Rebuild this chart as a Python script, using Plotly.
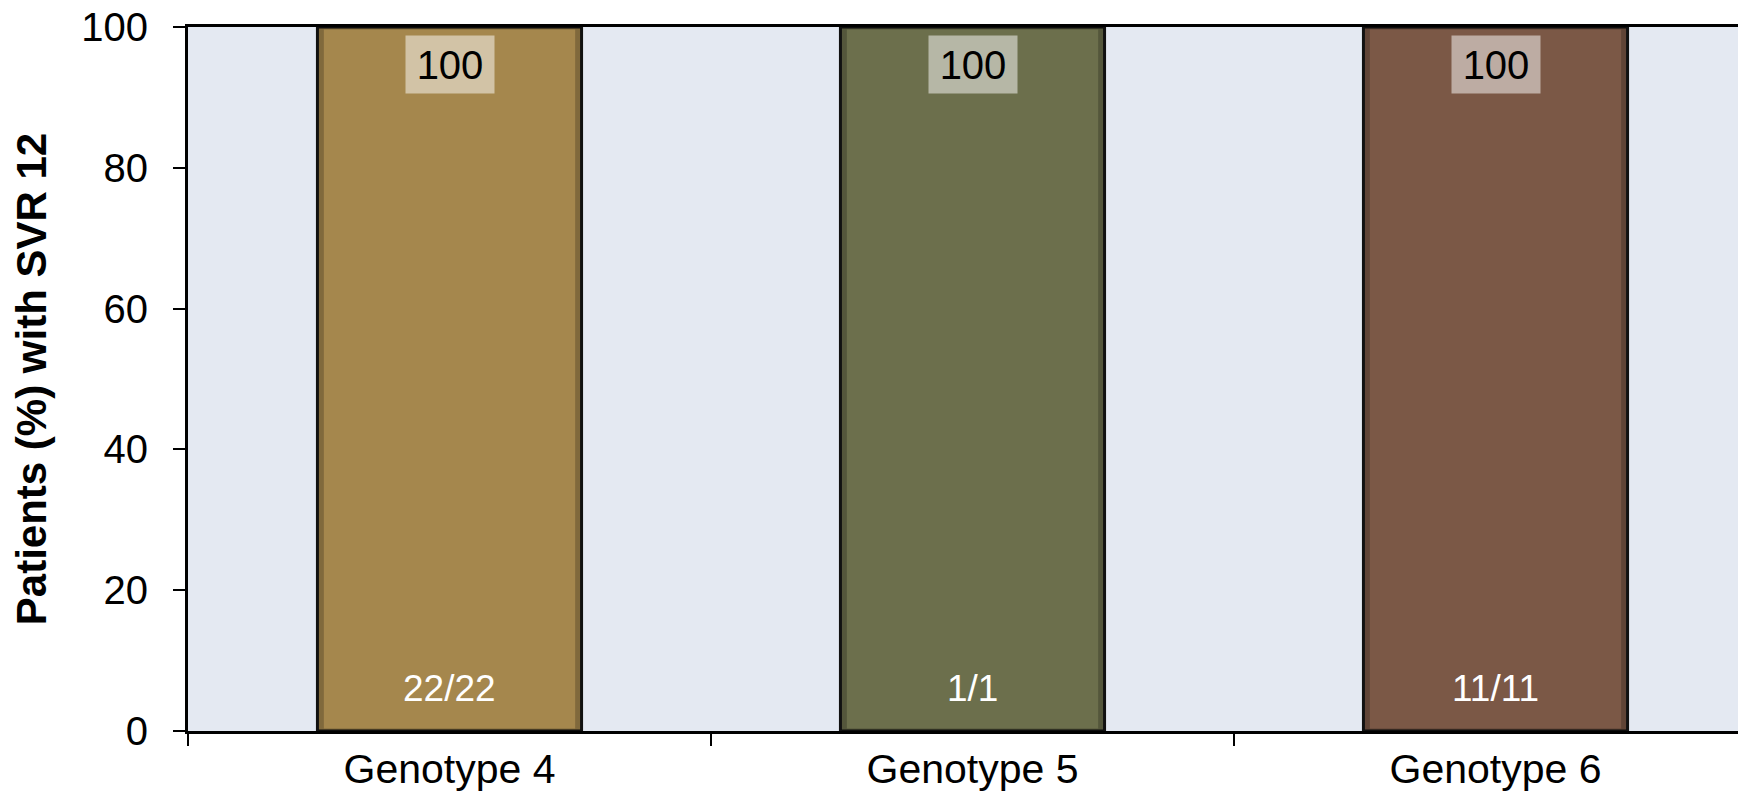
import plotly.graph_objects as go

categories = ["Genotype 4", "Genotype 5", "Genotype 6"]
svr_pct = [100, 100, 100]
n_labels = ["22/22", "1/1", "11/11"]
bar_colors = ["#A5874D", "#6C6F4C", "#7B5846"]
y_ticks = [0, 20, 40, 60, 80, 100]

FONT = "Liberation Sans, Arial, sans-serif"

# page body has an 8px default margin; figure sized to fit the window
FIG_W, FIG_H = 1738, 783
M_L, M_T, M_B = 180, 19, 60
CAT_PX = 523.0

fig = go.Figure()
fig.add_trace(go.Bar(
    x=categories, y=svr_pct, width=0.505,
    marker=dict(color=bar_colors, line=dict(color="#111111", width=3)),
    hoverinfo="skip",
))
# inner shading frame for bevel look
fig.add_trace(go.Bar(
    x=categories, y=svr_pct, width=0.49,
    marker=dict(color="rgba(0,0,0,0)", line=dict(color="rgba(0,0,0,0.22)", width=5)),
    hoverinfo="skip",
))

for cat, v, n in zip(categories, svr_pct, n_labels):
    fig.add_annotation(
        x=cat, y=v, xref="x", yref="y", yanchor="top", yshift=-8,
        text=str(v), showarrow=False, width=88, height=57, borderpad=0,
        bgcolor="rgba(255,255,255,0.5)",
        font=dict(family=FONT, size=40, color="black"),
    )
    fig.add_annotation(
        x=cat, y=0, xref="x", yref="y", yanchor="middle", yshift=43,
        text=n, showarrow=False,
        font=dict(family=FONT, size=37, color="white"),
    )

fig.update_layout(
    width=FIG_W, height=FIG_H,
    margin=dict(l=M_L, r=0, t=M_T, b=M_B),
    paper_bgcolor="white", plot_bgcolor="#E4E9F2",
    showlegend=False, barmode="overlay",
    font=dict(family=FONT, color="black"),
)
fig.update_xaxes(
    range=[-0.5, -0.5 + (FIG_W - M_L) / CAT_PX],
    automargin=False,
    showline=True, linecolor="black", linewidth=3, mirror=True,
    ticks="outside", ticklen=12, tickwidth=2, tickcolor="black",
    tickson="boundaries", showgrid=False,
    tickfont=dict(family=FONT, size=41, color="black"),
    ticklabelstandoff=0,
)
fig.update_yaxes(
    range=[0, 100], tickvals=y_ticks,
    automargin=False, ticklabeloverflow="allow",
    showline=True, linecolor="black", linewidth=3,
    ticks="outside", ticklen=12, tickwidth=2, tickcolor="black",
    showgrid=False, zeroline=False,
    tickfont=dict(family=FONT, size=40, color="black"),
    ticklabelstandoff=17,
    title=dict(text="<b>Patients (%) with SVR 12</b>", standoff=51,
               font=dict(family=FONT, size=42, color="black")),
)

fig.write_html("out.html")
